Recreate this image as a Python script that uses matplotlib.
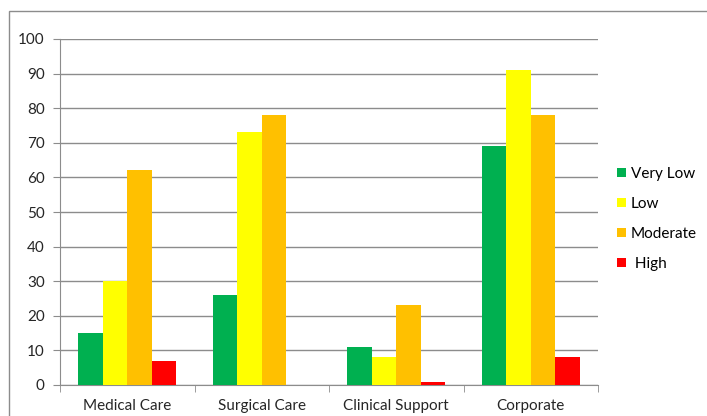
import numpy as np
import matplotlib.pyplot as plt
from matplotlib.patches import Rectangle

# risk counts per area
areas = ["Medical Care", "Surgical Care", "Clinical Support", "Corporate"]
levels = ["Very Low", "Low", "Moderate", " High"]
very_low = [15, 26, 11, 69]
low = [30, 73, 8, 91]
moderate = [62, 78, 23, 78]
high = [7, 0, 1, 8]
colors = ["#00B050", "#FFFF00", "#FFC000", "#FF0000"]

plt.rcParams['font.family'] = ['Lato', 'DejaVu Sans']

fig = plt.figure(figsize=(7.07, 4.16), dpi=100)
ax = fig.add_axes([60 / 707, 1 - 385 / 416, 538 / 707, 346 / 416])

# chart area frame
fig.patches.append(Rectangle((9 / 707, -0.1), 1.2, 1 - 11 / 416 + 0.1,
                             transform=fig.transFigure, fill=False,
                             edgecolor="#8c8c8c", linewidth=1.0))

x = np.arange(len(areas))
w = 0.182
for i, (vals, lab) in enumerate(zip([very_low, low, moderate, high], levels)):
    ax.bar(x + (i - 1.5) * w, vals, width=w, color=colors[i], label=lab, zorder=3)

ax.set_xlim(-0.5, 3.5)
ax.set_ylim(0, 100)
ax.set_yticks(range(0, 101, 10))
ax.yaxis.grid(True, color="#8c8c8c", linewidth=1.0, zorder=0)

ax.set_xticks(x)
ax.set_xticklabels(areas)
ax.set_xticks(np.arange(-0.5, 4.0, 1.0), minor=True)
ax.tick_params(axis="x", which="major", length=0, pad=10, labelsize=11, colors="#262626")
ax.tick_params(axis="x", which="minor", length=5, color="#8c8c8c", direction="out")
ax.tick_params(axis="y", length=5, color="#8c8c8c", labelsize=11, labelcolor="#262626", pad=6)

for s in ["top", "right"]:
    ax.spines[s].set_visible(False)
for s in ["left", "bottom"]:
    ax.spines[s].set_color("#8c8c8c")

ax.legend(loc="center left", bbox_to_anchor=(1.01, 0.48), frameon=False,
          handlelength=0.6, handleheight=0.6, handletextpad=0.3,
          labelspacing=1.05, fontsize=11)

fig.savefig("out.png", dpi=100)
